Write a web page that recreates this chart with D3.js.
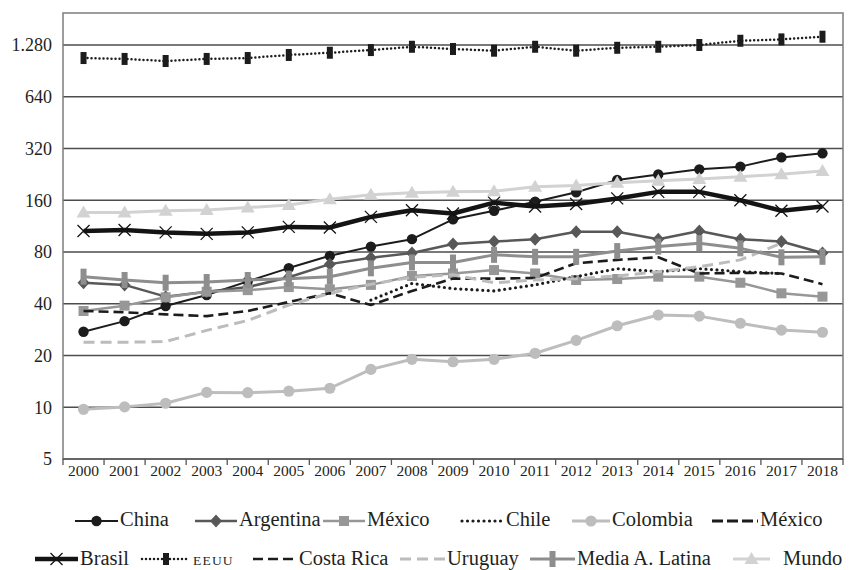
<!DOCTYPE html>
<html>
<head>
<meta charset="utf-8">
<script src="https://cdn.jsdelivr.net/npm/d3@7"></script>
<style>
  body { margin: 0; background: #fff; }
  svg { display: block; }
  svg text { font-family: "Liberation Serif", "Times New Roman", Tinos, "Noto Serif", "DejaVu Serif", "Noto Serif CJK SC", Times, serif; fill: #231f20; }
</style>
</head>
<body>
<svg id="chart" width="849" height="570"></svg>
<script>
// ---- data ----
const years = [2000, 2001, 2002, 2003, 2004, 2005, 2006, 2007, 2008, 2009,
               2010, 2011, 2012, 2013, 2014, 2015, 2016, 2017, 2018];
const yTicks = [5, 10, 20, 40, 80, 160, 320, 640, 1280];

const china      = [27.5, 31.7, 38.8, 45, 54, 64.5, 76, 86, 95, 124, 139, 157, 178, 210, 226, 242, 251, 284, 300];
const argentina  = [53, 51.5, 44, 47, 50, 57, 68, 74, 79, 89, 92, 95, 105, 105, 95, 106, 95, 92, 79];
const mexico     = [36.3, 39, 43.6, 47, 48, 50, 48.5, 51.5, 58, 60, 62.8, 60, 55, 55.7, 57.5, 57.5, 53, 46, 44];
const chile      = [null, null, null, null, null, null, null, 42, 52.5, 49, 47.5, 51.5, 57.5, 64, 61.5, 64, 61.5, 60, null];
const colombia   = [9.73, 10.05, 10.55, 12.2, 12.15, 12.4, 12.9, 16.6, 19.0, 18.4, 19.0, 20.6, 24.5, 29.8, 34.4, 33.9, 30.8, 28.1, 27.3];
const mexicoDash = [null, null, null, null, null, null, null, null, null, null, null, null, null, null, null, null, null, null, null];
const brasil     = [106, 107.5, 104, 102, 104, 112, 111, 128, 140, 134, 155, 147, 152, 164, 179, 179, 160, 139, 147];
const eeuu       = [1075, 1062, 1033, 1062, 1075, 1120, 1154, 1196, 1250, 1213, 1186, 1250, 1186, 1233, 1250, 1280, 1355, 1380, 1430];
const costaRica  = [36.3, 35.7, 34.7, 33.9, 36.3, 41, 46, 39.3, 47.5, 56, 56, 56.5, 68.8, 72, 74.5, 60, 60.5, 60, 52];
const uruguay    = [23.9, 23.9, 24.1, 28, 32, 39.3, 46, 52, 57, 59, 53, 55, 56, 58, 61.4, 65.7, 72, 90, null];
const mediaAL    = [57.5, 55, 53, 53.5, 55, 56, 57.5, 64.3, 69.5, 69.5, 77, 75, 75, 81, 86, 90, 84, 74.5, 75];
const mundo      = [136, 136, 139, 140.5, 145, 150, 162, 172, 177, 179, 180.5, 192, 195, 202, 208, 213, 219, 227, 237];

// ---- series styling ----
const series = [
  { name: "China",           values: china,      color: "#1c1c1c", width: 2,   dash: null,     marker: "circle" },
  { name: "Argentina",       values: argentina,  color: "#585858", width: 2.5, dash: null,     marker: "diamond" },
  { name: "México",          values: mexico,     color: "#979797", width: 2.5, dash: null,     marker: "square" },
  { name: "Chile",           values: chile,      color: "#1c1c1c", width: 3.2, dash: "0,5.5",  marker: null, round: true },
  { name: "Colombia",        values: colombia,   color: "#bdbdbd", width: 3,   dash: null,     marker: "dot" },
  { name: "México",          values: mexicoDash, color: "#1c1c1c", width: 3,   dash: "11,4",   marker: null },
  { name: "Brasil",          values: brasil,     color: "#141414", width: 4.5, dash: null,     marker: "x" },
  { name: "EEUU",            values: eeuu,       color: "#1c1c1c", width: 2.5, dash: "0,4",    marker: "rect", round: true, small: true },
  { name: "Costa Rica",      values: costaRica,  color: "#1c1c1c", width: 2.6, dash: "10,5",   marker: null },
  { name: "Uruguay",         values: uruguay,    color: "#bcbcbc", width: 3,   dash: "11,6",   marker: null },
  { name: "Media A. Latina", values: mediaAL,    color: "#8e8e8e", width: 3,   dash: null,     marker: "bar" },
  { name: "Mundo",           values: mundo,      color: "#d2d2d2", width: 3,   dash: null,     marker: "triangle" }
];

const FONT = '"Liberation Serif", "Times New Roman", Tinos, "Noto Serif", "DejaVu Serif", "Noto Serif CJK SC", Times, serif';

// ---- layout ----
const svg = d3.select("#chart").attr("font-family", FONT);
const plot = { left: 63, right: 843, top: 13, bottom: 459 };

const x = d3.scaleBand().domain(years).range([plot.left, plot.right]);
const y = d3.scaleLog().base(2).domain([5, 1280]).range([plot.bottom, 45]);
const cx = yr => x(yr) + x.bandwidth() / 2;

const fmt = d3.formatLocale({ decimal: ",", thousands: ".", grouping: [3], currency: ["", ""] }).format(",");

// gridlines
svg.append("g").selectAll("line")
  .data(yTicks.filter(v => v > 5))
  .join("line")
  .attr("x1", plot.left).attr("x2", plot.right)
  .attr("y1", d => y(d)).attr("y2", d => y(d))
  .attr("stroke", "#4d4d4d").attr("stroke-width", 1.4);

// frame
svg.append("rect")
  .attr("x", plot.left).attr("y", plot.top)
  .attr("width", plot.right - plot.left).attr("height", plot.bottom - plot.top)
  .attr("fill", "none").attr("stroke", "#7d7d7d").attr("stroke-width", 1.5);

// y-axis labels
const yAxis = d3.axisLeft(y).tickValues(yTicks).tickFormat(fmt).tickSize(0).tickPadding(11);
const gy = svg.append("g").attr("transform", `translate(${plot.left},0)`).call(yAxis);
gy.attr("font-family", FONT);
gy.select(".domain").remove();
gy.selectAll("text").attr("font-size", 18).attr("fill", "#231f20").style("font-family", FONT);

// x-axis: line, ticks between categories, labels
svg.append("line")
  .attr("x1", plot.left).attr("x2", plot.right)
  .attr("y1", plot.bottom).attr("y2", plot.bottom)
  .attr("stroke", "#555").attr("stroke-width", 1.5);
const bounds = years.map(yr => x(yr)).concat([plot.right]);
svg.append("g").selectAll("line")
  .data(bounds).join("line")
  .attr("x1", d => d).attr("x2", d => d)
  .attr("y1", plot.bottom).attr("y2", plot.bottom + 6)
  .attr("stroke", "#555").attr("stroke-width", 1.3);
const xAxis = d3.axisBottom(x).tickSize(0).tickPadding(6);
const gx = svg.append("g").attr("transform", `translate(0,${plot.bottom})`).call(xAxis);
gx.attr("font-family", FONT);
gx.select(".domain").remove();
gx.selectAll("text").attr("font-size", 15.5).attr("fill", "#231f20").style("font-family", FONT);

// ---- marker drawing ----
function drawMarker(g, s, px, py) {
  switch (s.marker) {
    case "circle":
      g.append("circle").attr("cx", px).attr("cy", py).attr("r", 5.2).attr("fill", s.color); break;
    case "dot":
      g.append("circle").attr("cx", px).attr("cy", py).attr("r", 5.6).attr("fill", s.color); break;
    case "diamond":
      g.append("path").attr("d", `M${px},${py - 6.5}L${px + 6},${py}L${px},${py + 6.5}L${px - 6},${py}Z`).attr("fill", s.color); break;
    case "square":
      g.append("rect").attr("x", px - 5).attr("y", py - 5).attr("width", 10).attr("height", 10).attr("fill", s.color); break;
    case "x":
      g.append("path").attr("d", `M${px - 6},${py - 6}L${px + 6},${py + 6}M${px - 6},${py + 6}L${px + 6},${py - 6}`)
        .attr("stroke", s.color).attr("stroke-width", 1.3).attr("fill", "none"); break;
    case "rect":
      g.append("rect").attr("x", px - 3).attr("y", py - 6).attr("width", 6).attr("height", 12).attr("fill", s.color); break;
    case "bar":
      g.append("rect").attr("x", px - 3).attr("y", py - 8).attr("width", 6).attr("height", 16).attr("fill", s.color); break;
    case "triangle":
      g.append("path").attr("d", `M${px},${py - 7}L${px + 7},${py + 5}L${px - 7},${py + 5}Z`).attr("fill", s.color); break;
  }
}

function styleLine(sel, s) {
  sel.attr("fill", "none").attr("stroke", s.color).attr("stroke-width", s.width)
     .attr("stroke-linejoin", "round")
     .attr("stroke-linecap", s.round ? "round" : "butt");
  if (s.dash) sel.attr("stroke-dasharray", s.dash);
}

// ---- series lines ----
const line = d3.line()
  .defined(d => d != null)
  .x((d, i) => cx(years[i]))
  .y(d => y(d));

const seriesG = svg.append("g");
series.forEach(s => {
  const g = seriesG.append("g");
  if (s.values.some(v => v != null)) {
    styleLine(g.append("path").attr("d", line(s.values)), s);
  }
  s.values.forEach((v, i) => {
    if (v != null && s.marker) drawMarker(g, s, cx(years[i]), y(v));
  });
});

// ---- legend ----
// [symbol start, symbol end, text start, row]
const legendPos = [
  [75, 118, 120, 0], [195, 237, 239, 0], [323, 365, 367, 0],
  [462, 505, 506, 0], [572, 610, 612, 0], [712, 758, 760, 0],
  [35, 78, 80, 1], [142, 190, 193, 1], [253, 297, 299, 1],
  [400, 445, 447, 1], [530, 575, 577, 1], [733, 770, 783, 1]
];
const rowSymY = [521, 559];
const rowTextY = [526, 565];

const legend = svg.append("g");
series.forEach((s, i) => {
  const [x0, x1, tx, row] = legendPos[i];
  const g = legend.append("g");
  const sy = rowSymY[row];
  styleLine(g.append("line").attr("x1", x0).attr("x2", x1).attr("y1", sy).attr("y2", sy), s);
  if (s.marker) drawMarker(g, s, (x0 + x1) / 2, sy);
  const t = g.append("text").attr("x", tx).attr("y", rowTextY[row]).text(s.name).style("font-family", FONT);
  if (s.small) t.attr("font-size", 13.5).attr("letter-spacing", 1.2);
  else t.attr("font-size", 20.5);
});
</script>
</body>
</html>
